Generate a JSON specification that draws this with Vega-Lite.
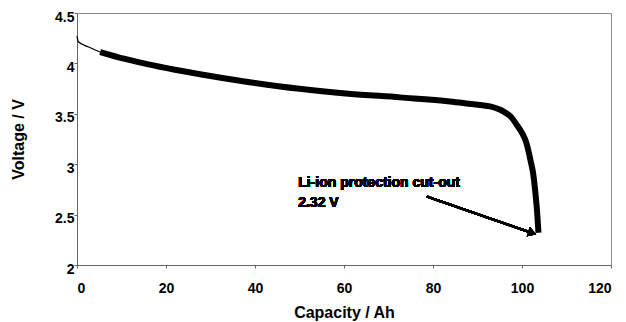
{
  "$schema": "https://vega.github.io/schema/vega-lite/v6.json",
  "width": 534,
  "height": 252,
  "autosize": {"type": "none"},
  "padding": {"left": 77, "top": 13, "right": 15, "bottom": 57},
  "background": "white",
  "config": {
    "font": "Liberation Sans",
    "view": {"stroke": "#8a8a8a", "strokeWidth": 1},
    "axis": {
      "grid": false,
      "domainColor": "#666666",
      "domainWidth": 1,
      "tickColor": "#666666",
      "tickSize": 3,
      "labelFont": "Liberation Sans",
      "labelFontWeight": "bold",
      "labelFontSize": 14,
      "labelColor": "black",
      "titleFont": "Liberation Sans",
      "titleFontWeight": "bold",
      "titleFontSize": 16,
      "titleColor": "black"
    }
  },
  "datasets": {
    "discharge": [
      {"capacity": 0, "voltage": 4.27},
      {"capacity": 0.3, "voltage": 4.215},
      {"capacity": 2.5, "voltage": 4.165},
      {"capacity": 5.2, "voltage": 4.113},
      {"capacity": 10.8, "voltage": 4.044},
      {"capacity": 16, "voltage": 3.99},
      {"capacity": 22, "voltage": 3.937},
      {"capacity": 30, "voltage": 3.875},
      {"capacity": 40, "voltage": 3.806},
      {"capacity": 50, "voltage": 3.748},
      {"capacity": 61, "voltage": 3.70},
      {"capacity": 72.6, "voltage": 3.663},
      {"capacity": 83.8, "voltage": 3.623},
      {"capacity": 88, "voltage": 3.60},
      {"capacity": 92.8, "voltage": 3.573},
      {"capacity": 95.8, "voltage": 3.524},
      {"capacity": 97.5, "voltage": 3.47},
      {"capacity": 98.8, "voltage": 3.392},
      {"capacity": 100, "voltage": 3.31},
      {"capacity": 101, "voltage": 3.21},
      {"capacity": 102, "voltage": 3.02},
      {"capacity": 102.5, "voltage": 2.91},
      {"capacity": 103, "voltage": 2.72},
      {"capacity": 103.3, "voltage": 2.58},
      {"capacity": 103.7, "voltage": 2.32}
    ]
  },
  "data": {"name": "discharge"},
  "layer": [
    {
      "transform": [{"filter": "datum.capacity <= 5.2"}],
      "mark": {"type": "line", "color": "black", "strokeWidth": 1.3, "interpolate": "monotone"},
      "encoding": {
        "x": {"field": "capacity", "type": "quantitative", "scale": {"domain": [0, 120], "nice": false},
          "axis": {"title": "Capacity / Ah", "values": [0, 20, 40, 60, 80, 100, 120], "labelPadding": 13, "titleBaseline": "alphabetic", "titleY": 52}},
        "y": {"field": "voltage", "type": "quantitative", "scale": {"domain": [2, 4.5], "nice": false, "zero": false},
          "axis": {"title": "Voltage / V", "values": [2, 2.5, 3, 3.5, 4, 4.5], "format": "~g", "labelPadding": 0, "labelOffset": 4, "titleBaseline": "alphabetic", "titleX": -53.5, "titleY": 126, "titleAlign": "center", "titleAngle": -90}}
      }
    },
    {
      "transform": [{"filter": "datum.capacity >= 5.2"}],
      "mark": {"type": "line", "color": "black", "strokeWidth": 6, "interpolate": "monotone", "strokeCap": "butt"},
      "encoding": {
        "x": {"field": "capacity", "type": "quantitative"},
        "y": {"field": "voltage", "type": "quantitative"}
      }
    },
    {
      "mark": {"type": "rule", "color": "black", "strokeWidth": 2},
      "encoding": {
        "x": {"datum": 78.6},
        "y": {"datum": 2.68},
        "x2": {"datum": 102.3},
        "y2": {"datum": 2.317}
      }
    },
    {
      "mark": {"type": "point", "shape": "triangle-right", "filled": true, "color": "black", "opacity": 1, "size": 90, "angle": 18},
      "encoding": {
        "x": {"datum": 102.3},
        "y": {"datum": 2.317}
      }
    },
    {
      "mark": {"type": "text", "align": "left", "baseline": "alphabetic", "fontSize": 14, "fontWeight": "bold", "font": "Liberation Sans", "color": "black"},
      "encoding": {
        "x": {"datum": 49.7},
        "y": {"datum": 2.774},
        "text": {"value": "Li-ion protection cut-out"}
      }
    },
    {
      "mark": {"type": "text", "align": "left", "baseline": "alphabetic", "fontSize": 14, "fontWeight": "bold", "font": "Liberation Sans", "color": "black"},
      "encoding": {
        "x": {"datum": 49.7},
        "y": {"datum": 2.58},
        "text": {"value": "2.32 V"}
      }
    }
  ]
}
